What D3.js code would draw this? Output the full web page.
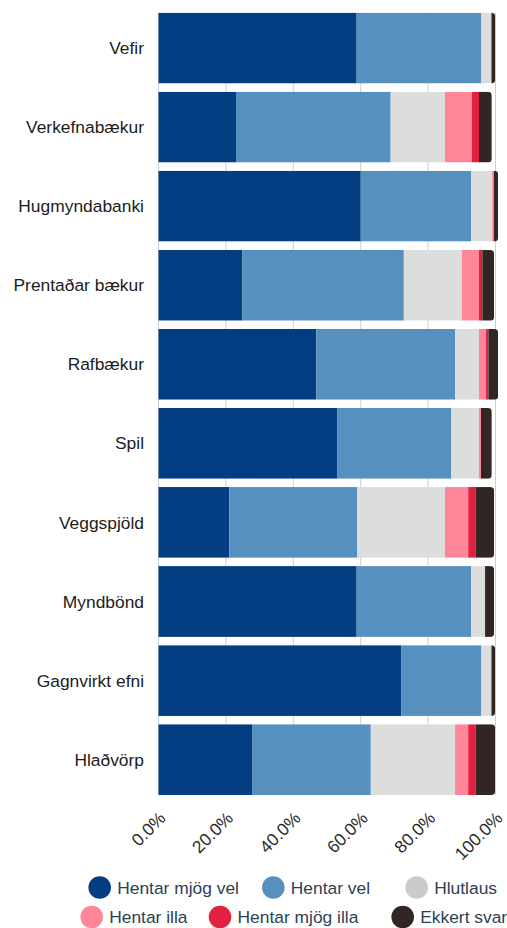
<!DOCTYPE html>
<html>
<head>
<meta charset="utf-8">
<script src="https://cdn.jsdelivr.net/npm/d3@7"></script>
<style>
  html, body { margin: 0; padding: 0; background: #fff; }
  svg { display: block; font-family: "Liberation Sans", Arial, Helvetica, sans-serif; }
</style>
</head>
<body>
<svg id="chart" width="507" height="928"></svg>
<script>
// ---- Data ----
const categories = ["Vefir", "Verkefnabækur", "Hugmyndabanki", "Prentaðar bækur", "Rafbækur",
                    "Spil", "Veggspjöld", "Myndbönd", "Gagnvirkt efni", "Hlaðvörp"];
const seriesNames = ["Hentar mjög vel", "Hentar vel", "Hlutlaus", "Hentar illa", "Hentar mjög illa", "Ekkert svar"];
const hentarMjogVel  = [58.8, 23.0, 60.0, 24.9, 46.8, 53.0, 21.0, 58.8, 72.0, 27.9];
const hentarVel      = [37.0, 45.9, 32.8, 47.9, 41.2, 33.9, 38.0, 34.0, 23.8, 35.1];
const hlutlaus       = [ 3.0, 16.1,  6.2, 17.2,  7.1,  8.2, 26.0,  4.1,  3.0, 25.0];
const hentarIlla     = [ 0.0,  8.0,  0.5,  5.1,  2.1,  0.6,  6.9,  0.0,  0.0,  3.9];
const hentarMjogIlla = [ 0.0,  2.1,  0.0,  1.0,  0.7,  0.0,  2.2,  0.0,  0.0,  2.2];
const ekkertSvar     = [ 1.1,  3.8,  1.3,  3.5,  2.9,  3.2,  5.5,  2.7,  1.1,  5.8];
const tickValues = [0, 20, 40, 60, 80, 100];

// ---- Styles ----
const colors = ["#033e82", "#5690bf", "#dcdedd", "#ff8699", "#e0213f", "#322625"];
const legendColors = ["#033e82", "#5690bf", "#cdcaca", "#ff8699", "#e0213f", "#322625"];

const seriesValues = [hentarMjogVel, hentarVel, hlutlaus, hentarIlla, hentarMjogIlla, ekkertSvar];
const table = categories.map((c, i) => {
  const row = { category: c };
  seriesNames.forEach((s, k) => row[s] = seriesValues[k][i]);
  return row;
});

const svg = d3.select("#chart");
const x = d3.scaleLinear().domain([0, 100]).range([158.5, 495.5]);
const y = d3.scaleBand().domain(categories).range([12.7, 795]).paddingInner(0.105).paddingOuter(0);

// Grid lines
svg.append("g").selectAll("line").data(tickValues).join("line")
  .attr("x1", d => x(d)).attr("x2", d => x(d))
  .attr("y1", y.range()[0]).attr("y2", y.range()[1])
  .attr("stroke", "#cfcfcf").attr("stroke-width", 1);

const stack = d3.stack().keys(seriesNames);
const stacked = stack(table);

// Clip paths with rounded right end per bar
const defs = svg.append("defs");
const r = 4;
table.forEach((row, i) => {
  const total = seriesNames.reduce((a, s) => a + row[s], 0);
  const x0 = x(0), x1 = x(total), y0 = y(row.category), h = y.bandwidth();
  const p = d3.path();
  p.moveTo(x0 - 1, y0);
  p.lineTo(x1 - r, y0);
  p.arcTo(x1, y0, x1, y0 + r, r);
  p.lineTo(x1, y0 + h - r);
  p.arcTo(x1, y0 + h, x1 - r, y0 + h, r);
  p.lineTo(x0 - 1, y0 + h);
  p.closePath();
  defs.append("clipPath").attr("id", "clip" + i).append("path").attr("d", p.toString());
});

const rowsG = svg.append("g");
categories.forEach((c, i) => {
  const g = rowsG.append("g").attr("clip-path", `url(#clip${i})`);
  stacked.forEach((layer, k) => {
    const d = layer[i];
    if (d[1] - d[0] <= 0) return;
    g.append("rect")
      .attr("x", x(d[0]))
      .attr("y", y(c))
      .attr("width", x(d[1]) - x(d[0]))
      .attr("height", y.bandwidth())
      .attr("fill", colors[k]);
  });
});

// Category labels
svg.append("g").selectAll("text").data(categories).join("text")
  .attr("x", 144)
  .attr("y", d => y(d) + y.bandwidth() / 2)
  .attr("dy", "0.35em")
  .attr("text-anchor", "end")
  .attr("font-size", "17.4px")
  .attr("fill", "#1c1c1c")
  .text(d => d);

// X axis tick labels
svg.append("g").selectAll("text").data(tickValues).join("text")
  .attr("transform", d => `translate(${x(d) + 4},815) rotate(-45)`)
  .attr("dy", "0.35em")
  .attr("text-anchor", "end")
  .attr("font-size", "17.4px")
  .attr("fill", "#2a2a2a")
  .text(d => d3.format(".1f")(d) + "%");

// Legend
const legendLayout = [
  { cx: 99.7, cy: 887.5 }, { cx: 273.3, cy: 887.5 }, { cx: 416.7, cy: 887.5 },
  { cx: 91.7, cy: 917 },  { cx: 220, cy: 917 },    { cx: 402.7, cy: 917 }
];
const leg = svg.append("g");
seriesNames.forEach((s, k) => {
  const L = legendLayout[k];
  leg.append("circle").attr("cx", L.cx).attr("cy", L.cy).attr("r", 11.3).attr("fill", legendColors[k]);
  leg.append("text").attr("x", L.cx + 17.5).attr("y", L.cy).attr("dy", "0.35em")
    .attr("font-size", "17.4px").attr("fill", "#2e3f55").text(s);
});
</script>
</body>
</html>
